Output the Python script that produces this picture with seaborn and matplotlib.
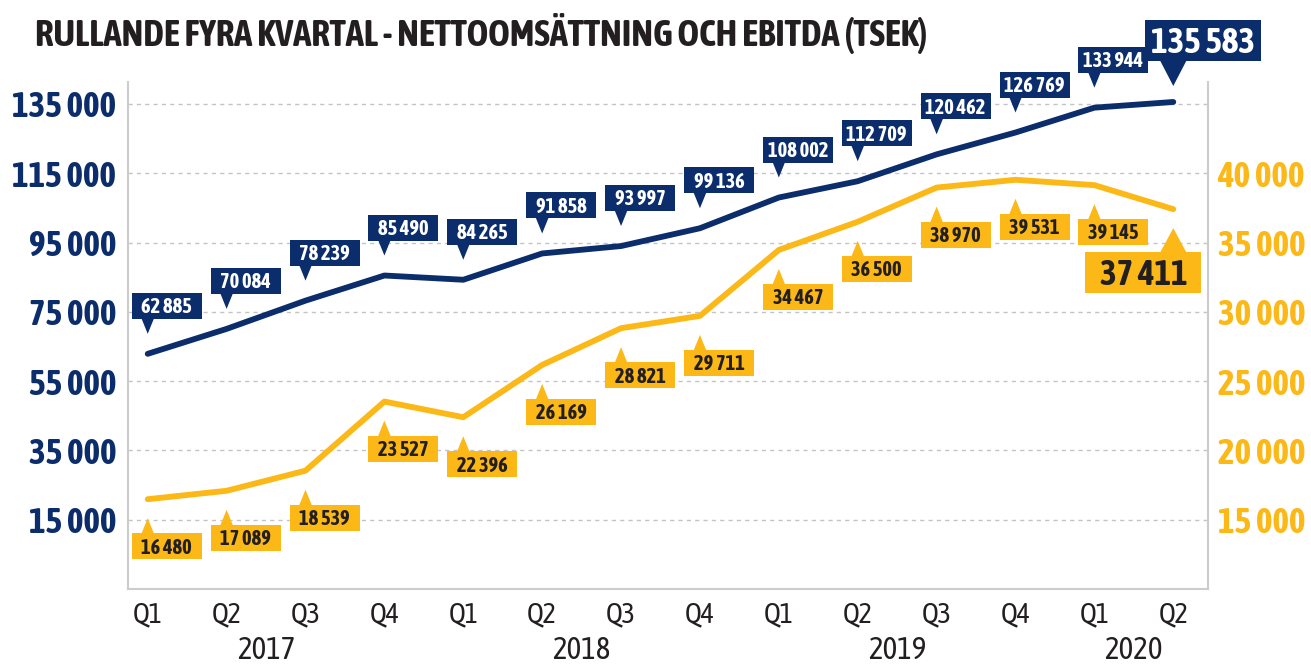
import matplotlib
matplotlib.use("Agg")
import matplotlib.pyplot as plt
import matplotlib.transforms as mtransforms
from matplotlib import font_manager as fm
from matplotlib.patches import Polygon, Rectangle
import seaborn as sns
import pandas as pd

# values (TSEK, rolling four quarters)
quarters = ["Q1", "Q2", "Q3", "Q4", "Q1", "Q2", "Q3", "Q4", "Q1", "Q2", "Q3", "Q4", "Q1", "Q2"]
quarter_years = ["2017"] * 4 + ["2018"] * 4 + ["2019"] * 4 + ["2020"] * 2
net_sales = [62885, 70084, 78239, 85490, 84265, 91858, 93997, 99136,
             108002, 112709, 120462, 126769, 133944, 135583]
ebitda = [16480, 17089, 18539, 23527, 22396, 26169, 28821, 29711,
          34467, 36500, 38970, 39531, 39145, 37411]
left_ticks = [15000, 35000, 55000, 75000, 95000, 115000, 135000]
right_ticks = [15000, 20000, 25000, 30000, 35000, 40000]
title = "RULLANDE FYRA KVARTAL - NETTOOMSÄTTNING OCH EBITDA (TSEK)"

NAVY = "#0c2d6b"
GOLD = "#fbb817"
INK = "#231f20"
GRID = "#c4c4c4"
SPINE = "#cccccc"

W, H = 1311, 669


def fmt(v):
    return f"{v:,}".replace(",", " ")


def px(v):
    return v / 100.0  # pixels -> inches at dpi 100


# look for a narrow / condensed face, the reference uses a condensed grotesque
family, stretch = "DejaVu Sans", "normal"
narrow = [f for f in fm.fontManager.ttflist
          if ("narrow" in f.name.lower() or "condensed" in f.name.lower()
              or f.stretch in ("condensed", "semi-condensed", "extra-condensed"))]
narrow.sort(key=lambda f: (f.weight not in ("bold", 700), f.name))
if narrow:
    family, stretch = narrow[0].name, narrow[0].stretch

sns.set_theme(style="white")
plt.rcParams["font.family"] = [family, "DejaVu Sans"]
plt.rcParams["font.stretch"] = stretch

df = pd.DataFrame({"i": range(len(quarters)), "q": quarters, "year": quarter_years,
                   "net": net_sales, "ebitda": ebitda})

fig = plt.figure(figsize=(W / 100, H / 100), dpi=100)
renderer = fig.canvas.get_renderer()


def fit(text, target, cap, weight="bold"):
    # font size that makes the text about `target` pixels wide
    t = fig.text(0, 0, text, fontsize=20, fontweight=weight)
    w = t.get_window_extent(renderer).width
    t.remove()
    return min(cap, 20 * target / w)


TITLE_SIZE = fit(title, 980, 26.5)
TICK_SIZE = fit("135 000", 104, 30)
Q_SIZE = fit("Q1", 30, 25, "normal")
YEAR_SIZE = fit("2017", 58, 25, "normal")
LAB_SIZE = fit("120 462", 60, 18)
BIG_SIZE = fit("135 583", 104, 28)

ax = fig.add_axes([128 / W, 1 - 589 / H, (1208 - 128) / W, (589 - 82) / H])
ax2 = ax.twinx()

sns.lineplot(data=df, x="i", y="net", ax=ax, color=NAVY, lw=4.2, sort=False)
sns.lineplot(data=df, x="i", y="ebitda", ax=ax2, color=GOLD, lw=4.2, sort=False)

lo, hi = -5000, 141350
ax.set_xlim(-0.25, 13.44)
ax.set_ylim(lo, hi)
ax2.set_ylim(15000 + (lo - 15000) / 4, 15000 + (hi - 15000) / 4)

ax.set_yticks(left_ticks)
ax.set_yticklabels([fmt(t) for t in left_ticks])
ax2.set_yticks(right_ticks)
ax2.set_yticklabels([fmt(t) for t in right_ticks])
ax.set_xticks(df["i"])
ax.set_xticklabels(quarters)
for a in (ax, ax2):
    a.set_xlabel("")
    a.set_ylabel("")
ax.yaxis.grid(True, ls=(0, (3, 3)), color=GRID, lw=1)
ax2.grid(False)

ax.tick_params(axis="y", length=0, pad=8.5, labelsize=TICK_SIZE, labelcolor=NAVY)
ax2.tick_params(axis="y", length=0, pad=7, labelsize=TICK_SIZE, labelcolor=GOLD)
ax.tick_params(axis="x", length=0, pad=9, labelsize=Q_SIZE, labelcolor=INK)
for lab in ax.get_yticklabels() + ax2.get_yticklabels():
    lab.set_fontweight("bold")

for s in ["top", "right"]:
    ax.spines[s].set_visible(False)
for s in ["top", "left", "bottom"]:
    ax2.spines[s].set_visible(False)
for s in ["left", "bottom"]:
    ax.spines[s].set_color(SPINE)
    ax.spines[s].set_linewidth(1.5)
ax2.spines["right"].set_color(SPINE)
ax2.spines["right"].set_linewidth(1.5)

# year labels under the quarters
for yr, grp in df.groupby("year"):
    ax.annotate(yr, xy=(grp["i"].mean(), 0), xycoords=("data", "axes fraction"),
                xytext=(0, -70 * 0.72), textcoords="offset points",
                ha="center", va="baseline", fontsize=YEAR_SIZE, color=INK)


def callout(axis, x, y, text, fc, tc, up, w, h, tip, base, pw, left, size):
    trans = fig.dpi_scale_trans + mtransforms.ScaledTranslation(x, y, axis.transData)
    s = 1 if up else -1
    tri = Polygon([(0, s * px(tip)), (-px(pw / 2), s * px(base + 1)), (px(pw / 2), s * px(base + 1))],
                  closed=True, transform=trans, fc=fc, ec="none", clip_on=False, zorder=6)
    y0 = px(base) if up else -px(base + h)
    rect = Rectangle((-px(left), y0), px(w), px(h), transform=trans, fc=fc, ec="none",
                     clip_on=False, zorder=6)
    axis.add_artist(tri)
    axis.add_artist(rect)
    axis.text(-px(left) + px(w / 2), y0 + px(h / 2) - 0.72 * size / 72 / 2, text,
              transform=trans, ha="center", va="baseline", fontsize=size,
              fontweight="bold", color=tc, clip_on=False, zorder=7)


last = len(quarters) - 1
for i, v in enumerate(net_sales):
    if i == last:
        callout(ax, i, v, fmt(v), NAVY, "white", True, 116, 41, 16, 41, 27, 28, BIG_SIZE)
    else:
        callout(ax, i, v, fmt(v), NAVY, "white", True, 70, 26, 20, 35, 13, 16, LAB_SIZE)
for i, v in enumerate(ebitda):
    if i == last:
        callout(ax2, i, v, fmt(v), GOLD, INK, False, 116, 41, 19, 43, 27, 88, BIG_SIZE)
    else:
        callout(ax2, i, v, fmt(v), GOLD, INK, False, 70, 26, 19, 34, 13, 16, LAB_SIZE)

fig.text(35 / W, 1 - 46 / H, title, ha="left", va="baseline", fontsize=TITLE_SIZE,
         fontweight="bold", color=INK)

fig.savefig("out.png", dpi=100)
